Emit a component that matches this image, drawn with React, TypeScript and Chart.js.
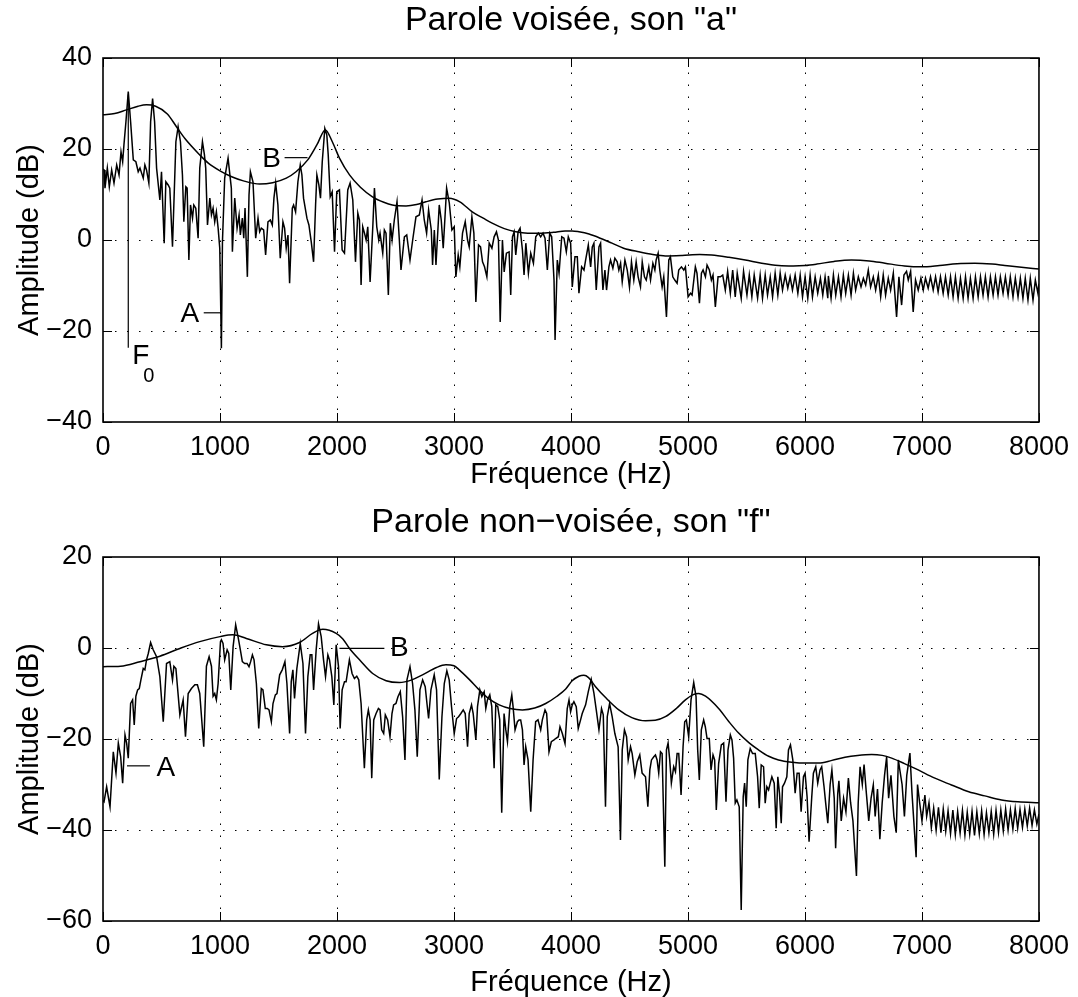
import React, { useEffect, useRef } from 'react';
import { Chart, registerables } from 'chart.js';

Chart.register(...registerables);

const FONT = '"Liberation Sans", Arial, Helvetica, sans-serif';
const TICK_SIZE = 27;
const LABEL_SIZE = 29;
const TITLE_SIZE = 34;

const freqTicks = [0, 1000, 2000, 3000, 4000, 5000, 6000, 7000, 8000];
const voicedDbTicks = [-40, -20, 0, 20, 40];
const unvoicedDbTicks = [-60, -40, -20, 0, 20];

const voicedTitle = 'Parole voisée, son "a"';
const unvoicedTitle = 'Parole non−voisée, son "f"';
const freqLabel = 'Fréquence (Hz)';
const ampLabel = 'Amplitude (dB)';

// Voiced "a": short-term spectrum [Hz, dB]
const voicedSpectrum: [number, number][] = [
  [0, 15.6], [9, 15.4], [17, 11.4], [37, 15.8], [54, 11.7], [74, 15.4], [94, 12.5], [117, 16.5], [137, 14.3], [154, 19.4],
  [168, 17.2], [179, 20.9], [196, 26.0], [216, 32.6], [236, 26.0], [259, 17.6], [281, 17.2], [301, 15.0], [316, 15.8], [330, 14.7],
  [344, 13.6], [358, 16.5], [372, 15.4], [392, 12.5], [407, 26.0], [424, 31.1], [441, 26.0], [458, 15.8], [486, 8.8], [500, 15.0],
  [523, -0.7], [537, 12.8], [557, 12.1], [571, 11.4], [594, -1.5], [623, 21.6], [642, 24.9], [662, 21.6], [679, 14.3], [691, 4.0],
  [708, 11.7], [719, 11.4], [734, -4.4], [748, 7.7], [765, 4.8], [776, 7.7], [793, 7.0], [813, 0.4], [827, 15.8], [850, 21.6],
  [867, 18.7], [878, 15.8], [893, 3.3], [913, 9.2], [927, 5.5], [941, 7.0], [955, 4.0], [969, 6.2], [984, 2.6], [998, -1.8],
  [1012, -23.8], [1021, -0.4], [1040, 13.6], [1069, 18.0], [1097, 11.4], [1106, -2.6], [1126, 9.2], [1146, 2.6], [1163, 5.5], [1174, 1.1],
  [1191, 4.8], [1203, 0.4], [1214, 7.0], [1234, -8.1], [1248, 9.9], [1260, 15.0], [1282, 12.8], [1305, 0.4], [1325, 4.8], [1339, 1.8],
  [1353, 2.6], [1373, 2.2], [1390, -3.3], [1410, 4.0], [1430, 4.4], [1447, 3.3], [1461, 9.2], [1476, 12.5], [1495, 7.7], [1515, -4.0],
  [1538, 4.0], [1552, 2.6], [1566, -1.8], [1581, 1.1], [1595, -9.5], [1618, 7.0], [1629, 7.7], [1646, 6.2], [1666, 12.8], [1686, 16.5],
  [1700, 14.3], [1714, 9.2], [1743, 4.8], [1760, 3.3], [1780, -0.4], [1800, -4.8], [1817, 7.7], [1828, 14.3], [1845, 12.1], [1859, 9.2],
  [1874, 17.2], [1896, 24.5], [1913, 23.1], [1925, 18.7], [1942, 9.5], [1959, 10.6], [1979, -2.6], [1998, 10.6], [2021, 11.0], [2044, -2.2],
  [2064, -2.9], [2092, 11.0], [2112, 12.5], [2135, 8.8], [2158, -4.8], [2178, 5.9], [2192, 4.4], [2206, -9.9], [2220, 2.9], [2235, 1.5],
  [2249, 0.0], [2263, 2.9], [2283, -9.2], [2306, 2.9], [2320, 11.4], [2340, 2.9], [2357, 0.0], [2368, 1.5], [2391, -2.9], [2405, 2.2],
  [2419, 1.5], [2439, -12.1], [2456, 3.7], [2471, 0.0], [2490, 4.4], [2513, 8.4], [2533, 0.0], [2547, -6.6], [2576, 0.7], [2596, 1.1],
  [2624, -4.4], [2647, 0.0], [2675, 5.1], [2704, 5.5], [2727, 8.8], [2746, 4.4], [2766, 1.5], [2783, 6.6], [2806, 2.2], [2817, -5.5],
  [2832, 2.2], [2846, -5.5], [2874, 7.7], [2891, 4.4], [2908, -1.8], [2937, 11.4], [2960, 8.1], [2982, 2.2], [3002, 2.9], [3016, -8.1],
  [3036, -3.3], [3050, -5.9], [3073, 1.5], [3096, 4.0], [3116, 0.0], [3130, -1.5], [3153, 5.1], [3170, 1.5], [3187, -13.6], [3210, -1.1],
  [3227, -1.5], [3244, -4.8], [3261, -5.9], [3281, -8.1], [3301, -0.7], [3324, -1.8], [3343, 0.7], [3363, 1.8], [3380, 0.0], [3395, -18.0],
  [3414, 0.0], [3429, -7.0], [3448, -2.9], [3471, -2.6], [3485, -12.1], [3500, 0.7], [3514, 1.8], [3528, -3.3], [3548, 1.8], [3565, 2.6],
  [3585, -2.2], [3599, -7.7], [3614, -0.7], [3636, -7.3], [3656, -2.9], [3679, -5.1], [3699, 0.7], [3721, 1.5], [3741, 0.7], [3761, 1.5],
  [3778, 0.4], [3798, -6.6], [3818, 1.5], [3835, 0.7], [3855, -8.8], [3864, -22.0], [3883, -4.4], [3898, -7.3], [3921, 0.7], [3940, 0.4],
  [3960, -2.6], [3977, 0.7], [3997, -0.7], [4011, -10.3], [4034, -3.7], [4054, -3.7], [4068, -11.7], [4091, -5.9], [4111, -6.6], [4125, -4.4],
  [4148, -1.1], [4168, -5.9], [4182, -1.5], [4196, -0.7], [4216, -11.0], [4239, -1.5], [4253, -0.7], [4273, -11.0], [4290, -6.6], [4304, -11.0],
  [4324, -5.9], [4338, -4.4], [4358, -6.2], [4375, -4.0], [4395, -4.8], [4409, -6.6], [4424, -5.1], [4438, -9.2], [4461, -4.4], [4481, -6.6],
  [4500, -10.4], [4517, -4.8], [4537, -8.8], [4557, -4.8], [4574, -8.1], [4594, -10.3], [4609, -4.8], [4628, -8.1], [4643, -8.8], [4665, -5.9],
  [4680, -8.8], [4700, -5.1], [4717, -6.6], [4728, -4.4], [4745, -2.9], [4759, -6.6], [4779, -10.3], [4793, -8.1], [4816, -16.9], [4836, -4.4],
  [4850, -3.7], [4870, -8.1], [4887, -8.8], [4907, -9.5], [4921, -6.6], [4944, -5.9], [4964, -6.6], [4978, -5.9], [5001, -12.5], [5021, -11.7],
  [5035, -12.1], [5063, -5.9], [5077, -7.3], [5098, -13.9], [5115, -7.3], [5129, -6.6], [5149, -8.1], [5163, -5.5], [5183, -6.6], [5200, -8.8],
  [5214, -7.7], [5234, -14.7], [5257, -8.1], [5277, -8.1], [5297, -7.7],
  [5319, -11.0], [5339, -6.9], [5362, -11.7], [5382, -6.6], [5404, -12.5], [5421, -7.3], [5455, -12.8], [5475, -6.9], [5504, -12.1], [5524, -7.7],
  [5546, -12.5], [5566, -7.7], [5595, -12.8], [5617, -7.7], [5637, -12.8], [5660, -7.7], [5680, -12.1], [5703, -8.1], [5723, -12.5], [5745, -7.3],
  [5768, -12.1], [5788, -7.3], [5808, -11.0], [5831, -7.7], [5853, -10.6], [5873, -8.1], [5893, -11.0], [5916, -7.7], [5939, -11.7], [5959, -7.7],
  [5979, -12.5], [6001, -8.1], [6024, -12.8], [6044, -7.7], [6064, -12.5], [6087, -8.1], [6109, -11.7], [6132, -8.4], [6152, -12.1], [6172, -8.1],
  [6195, -12.8], [6200, -7.9], [6223, -12.8], [6243, -7.7], [6263, -12.1], [6286, -8.1], [6308, -12.5], [6328, -7.7], [6348, -11.7], [6371, -7.7],
  [6394, -12.1], [6414, -7.3], [6433, -11.0], [6456, -8.1], [6479, -10.3], [6499, -8.4], [6519, -9.9], [6541, -6.6], [6561, -10.3], [6584, -8.1],
  [6604, -11.0], [6627, -7.7], [6647, -12.5], [6669, -7.7], [6689, -12.1], [6712, -8.4], [6732, -11.0], [6755, -7.3], [6783, -16.9], [6803, -8.1],
  [6826, -14.3], [6846, -7.7], [6868, -6.9], [6883, -8.8], [6903, -6.9], [6925, -15.8], [6945, -8.8], [6968, -11.0], [6991, -8.4], [7011, -11.0],
  [7030, -8.4], [7053, -10.6], [7073, -8.1], [7096, -11.0], [7116, -8.1], [7138, -11.4], [7158, -8.1], [7181, -11.7], [7201, -8.1], [7224, -12.1],
  [7244, -8.1], [7266, -12.5], [7286, -8.1], [7309, -12.8], [7329, -8.4], [7352, -12.8], [7372, -8.1], [7394, -12.8], [7414, -8.4], [7437, -12.8],
  [7457, -8.1], [7480, -12.5], [7500, -8.1], [7522, -12.1], [7542, -8.1], [7565, -12.5], [7585, -8.1], [7608, -12.1], [7628, -8.1], [7650, -12.1],
  [7670, -8.1], [7693, -11.7], [7713, -8.1], [7736, -12.1], [7755, -8.1], [7778, -12.5], [7798, -8.4], [7821, -12.5], [7841, -8.4], [7863, -12.8],
  [7883, -8.4], [7906, -13.2], [7926, -8.4], [7949, -13.2], [7969, -8.8], [7991, -11.7], [8000, -9.6],
];

// Voiced "a": smooth spectral envelope [Hz, dB]
const voicedEnvelope: [number, number][] = [
  [0, 27.5], [100, 27.8], [200, 28.6], [300, 29.4], [372, 29.7], [450, 29.4], [550, 27.7], [628, 24.9], [700, 22.3], [827, 18.7],
  [900, 16.9], [1000, 15.2], [1100, 13.9], [1200, 13.0], [1339, 12.3], [1450, 12.6], [1567, 13.6], [1650, 15.0], [1750, 17.6], [1830, 21.0],
  [1900, 24.2], [1960, 21.6], [2021, 18.0], [2107, 14.3], [2200, 11.6], [2303, 9.5], [2400, 8.3], [2473, 7.7], [2590, 7.5], [2680, 7.8],
  [2760, 8.4], [2860, 9.0], [2960, 9.2], [3050, 8.4], [3156, 6.2], [3250, 4.8], [3326, 3.7], [3430, 2.5], [3528, 1.8], [3630, 1.5],
  [3727, 1.5], [3850, 1.7], [3950, 2.0], [4010, 2.0], [4068, 1.8], [4154, 1.3], [4250, 0.4], [4350, -0.7], [4450, -1.8], [4580, -2.6],
  [4700, -3.2], [4807, -3.5], [4950, -3.4], [5100, -3.2], [5203, -3.3], [5350, -3.8], [5490, -4.4], [5630, -5.1], [5774, -5.6], [5900, -5.7],
  [6001, -5.6], [6100, -5.3], [6250, -4.7], [6397, -4.4], [6550, -4.6], [6684, -5.1], [6850, -5.7], [6994, -5.9], [7150, -5.6], [7300, -5.2],
  [7451, -5.1], [7600, -5.3], [7707, -5.6], [7850, -6.0], [8000, -6.4],
];

// Unvoiced "f": short-term spectrum [Hz, dB]
const unvoicedSpectrum: [number, number][] = [
  [0, -33.5], [9, -33.8], [31, -30.5], [60, -34.9], [88, -22.8], [111, -27.5], [131, -20.9], [151, -23.9], [168, -29.7], [188, -19.1],
  [202, -20.9], [216, -24.2], [236, -12.2], [253, -11.4], [267, -16.9], [281, -10.6], [296, -9.2], [310, -8.9], [324, -7.0], [344, -4.5],
  [358, -4.8], [372, -2.6], [387, -1.2], [407, 1.2], [429, -0.4], [458, -1.9], [486, -6.3], [515, -16.2], [543, -3.4], [571, -3.0],
  [594, -7.0], [606, -4.0], [623, -4.5], [657, -14.7], [685, -11.4], [705, -19.5], [728, -10.0], [756, -8.9], [785, -8.1], [807, -8.1],
  [827, -10.0], [861, -21.7], [884, -4.0], [907, -1.9], [927, -4.0], [941, -10.6], [955, -10.0], [969, -11.4], [984, -7.8], [1004, 1.4],
  [1012, 1.8], [1026, 1.0], [1040, -2.6], [1061, -0.4], [1075, -1.2], [1092, -9.2], [1112, 0.3], [1134, 5.1], [1154, 2.5], [1174, -0.4],
  [1191, -3.0], [1211, -3.4], [1231, -3.4], [1248, -4.1], [1262, -3.0], [1277, -1.5], [1291, -2.6], [1311, -7.8], [1331, -17.7], [1353, -8.9],
  [1367, -9.2], [1387, -13.3], [1404, -13.3], [1419, -13.6], [1439, -16.2], [1453, -12.2], [1473, -10.3], [1487, -10.0], [1510, -5.9], [1532, -4.8],
  [1555, -3.0], [1572, -7.8], [1595, -18.8], [1609, -7.4], [1623, -4.8], [1637, -11.1], [1657, -4.5], [1686, 1.0], [1709, -3.4], [1731, -18.8],
  [1751, -6.3], [1771, -1.5], [1785, -1.5], [1800, -9.2], [1822, -0.4], [1842, 5.3], [1865, 2.5], [1885, -2.6], [1902, -6.3], [1922, -1.5],
  [1936, -2.6], [1956, -6.3], [1973, -12.5], [1993, 0.7], [2013, -4.1], [2027, -17.7], [2044, -9.2], [2064, -7.4], [2078, -7.4], [2106, -2.6],
  [2129, -5.6], [2149, -6.7], [2169, -6.2], [2186, -7.0], [2206, -12.2], [2234, -26.4], [2254, -15.8], [2268, -13.6], [2283, -15.8], [2297, -28.6],
  [2314, -15.8], [2334, -14.4], [2354, -13.3], [2368, -13.6], [2382, -18.0], [2399, -18.8], [2413, -14.7], [2433, -15.8], [2453, -19.5], [2470, -14.4],
  [2484, -12.5], [2504, -12.2], [2521, -10.7], [2541, -9.6], [2561, -15.1], [2581, -24.6], [2598, -7.0], [2624, -4.1], [2646, -7.8], [2666, -13.6],
  [2686, -23.9], [2709, -9.2], [2732, -7.0], [2754, -8.5], [2769, -12.2], [2783, -15.5], [2803, -9.2], [2831, -5.9], [2851, -9.2], [2874, -28.9],
  [2897, -15.1], [2917, -7.8], [2939, -5.0], [2959, -7.0], [2979, -12.9], [3002, -18.8], [3022, -15.5], [3039, -15.1], [3059, -14.4], [3079, -13.6],
  [3096, -14.4], [3116, -21.7], [3130, -14.4], [3150, -12.5], [3164, -14.4], [3187, -20.2], [3201, -12.9], [3221, -9.2], [3238, -10.7], [3258, -9.6],
  [3272, -13.3], [3286, -11.4], [3306, -10.3], [3323, -12.9], [3343, -26.4], [3357, -12.5], [3374, -12.9], [3391, -15.8], [3408, -36.2], [3428, -14.4],
  [3443, -18.0], [3457, -20.6], [3477, -12.9], [3494, -10.3], [3505, -12.9], [3522, -18.0], [3542, -16.2], [3556, -15.8], [3570, -15.8], [3585, -18.0],
  [3599, -25.7], [3613, -21.7], [3633, -24.6], [3656, -36.0], [3676, -24.6], [3698, -16.2], [3718, -15.8], [3741, -18.0], [3755, -15.8], [3778, -13.6],
  [3792, -14.4], [3812, -22.8], [3832, -20.6], [3855, -20.2], [3869, -19.9], [3892, -19.5], [3906, -17.3], [3926, -18.8], [3949, -21.0], [3968, -13.3],
  [3983, -11.4], [3997, -14.0], [4011, -12.5], [4025, -11.8], [4045, -12.9], [4062, -17.7], [4082, -15.8], [4096, -14.4], [4125, -12.5], [4148, -9.6],
  [4173, -6.9], [4196, -9.9], [4216, -13.6], [4239, -18.0], [4261, -13.3], [4276, -14.7], [4295, -34.9], [4310, -15.1], [4330, -12.2], [4352, -15.1],
  [4375, -18.8], [4403, -21.7], [4423, -42.2], [4438, -22.4], [4457, -18.0], [4475, -19.5], [4489, -24.6], [4509, -21.7], [4523, -23.2], [4546, -27.9],
  [4566, -25.0], [4588, -23.5], [4608, -27.5], [4637, -28.3], [4657, -34.9], [4674, -26.8], [4688, -24.6], [4708, -23.9], [4722, -23.5], [4736, -24.6],
  [4750, -27.5], [4765, -22.8], [4779, -23.2], [4802, -48.1], [4816, -22.4], [4830, -20.9], [4844, -24.6], [4858, -29.7], [4878, -26.1], [4893, -27.2],
  [4907, -23.2], [4921, -23.2], [4941, -32.3], [4958, -21.7], [4972, -16.2], [4986, -15.8], [5006, -19.5], [5026, -11.4], [5049, -7.6], [5069, -10.7],
  [5083, -22.4], [5097, -29.0], [5114, -18.0], [5134, -15.8], [5148, -17.3], [5163, -19.9], [5182, -19.9], [5197, -26.8], [5214, -23.5], [5228, -24.6],
  [5242, -35.6], [5262, -25.4], [5285, -21.3], [5305, -20.9], [5325, -33.8], [5342, -22.4], [5362, -19.1], [5376, -20.2], [5390, -24.2], [5404, -34.1],
  [5418, -33.4], [5438, -34.9], [5455, -57.6], [5472, -32.7], [5484, -29.7], [5498, -34.9], [5512, -24.6], [5532, -22.1], [5552, -23.2], [5575, -23.2],
  [5595, -28.3], [5609, -35.2], [5626, -25.7], [5646, -26.1], [5660, -34.1], [5674, -30.5], [5689, -31.2], [5703, -29.7], [5717, -28.3], [5737, -29.7],
  [5754, -39.6], [5768, -28.3], [5782, -31.9], [5797, -38.5], [5808, -30.5], [5825, -29.7], [5845, -28.3], [5859, -22.4], [5876, -21.3], [5896, -24.6],
  [5916, -31.9], [5933, -27.5], [5950, -27.5], [5967, -36.0], [5987, -28.3], [6001, -27.5], [6018, -32.7], [6035, -42.6], [6058, -32.7], [6072, -27.5],
  [6092, -26.1], [6109, -29.7], [6129, -26.8], [6143, -26.1], [6163, -30.5], [6177, -34.1], [6195, -38.5], [6215, -30.0], [6230, -26.8], [6250, -33.0],
  [6262, -44.0], [6280, -32.0], [6290, -29.2], [6310, -38.0], [6330, -33.0], [6350, -36.0], [6371, -28.6], [6390, -34.0], [6410, -38.0], [6440, -50.1],
  [6455, -34.0], [6471, -26.1], [6490, -30.0], [6505, -25.6], [6525, -32.0], [6545, -38.0], [6565, -33.0], [6584, -30.1], [6600, -37.0], [6620, -31.0],
  [6640, -42.0], [6660, -34.0], [6680, -28.0], [6698, -23.9], [6715, -33.0], [6735, -28.0], [6760, -37.0], [6780, -40.6], [6798, -24.6], [6812, -27.0],
  [6830, -30.0], [6850, -37.0], [6870, -28.0], [6897, -23.1], [6915, -32.0], [6930, -38.0], [6950, -46.0], [6962, -30.0], [6980, -34.0], [7000, -38.0],
  [7025, -32.3], [7040, -37.0], [7060, -34.0],
  [7080, -39.5], [7100, -35.2], [7121, -40.1], [7141, -35.0], [7162, -40.6], [7182, -35.4], [7203, -40.3], [7223, -35.8], [7244, -40.8], [7264, -35.6],
  [7285, -41.0], [7305, -36.0], [7326, -40.7], [7346, -35.7], [7367, -41.1], [7387, -36.1], [7408, -40.9], [7428, -35.9], [7449, -41.2], [7469, -36.0],
  [7490, -40.8], [7510, -35.8], [7531, -41.0], [7551, -36.2], [7572, -40.6], [7592, -35.9], [7613, -40.9], [7633, -35.7], [7654, -40.5], [7674, -35.6],
  [7695, -40.2], [7715, -35.4], [7736, -40.0], [7756, -35.6], [7777, -39.8], [7797, -35.3], [7818, -39.6], [7838, -35.5], [7859, -39.4], [7879, -35.4],
  [7900, -39.1], [7920, -35.2], [7941, -39.0], [7961, -35.6], [7982, -38.7], [8000, -36.5],
];

// Unvoiced "f": smooth spectral envelope [Hz, dB]
const unvoicedEnvelope: [number, number][] = [
  [0, -4.1], [150, -4.0], [316, -3.0], [486, -1.8], [657, -0.1], [827, 1.4], [1000, 2.5], [1109, 2.9], [1225, 2.1], [1396, 0.7],
  [1535, 0.3], [1680, 1.2], [1791, 3.2], [1879, 4.1], [1993, 3.2], [2050, 2.0], [2107, -0.1], [2200, -2.8], [2305, -5.6], [2420, -7.2],
  [2533, -7.6], [2640, -7.0], [2731, -5.9], [2850, -4.3], [2931, -3.7], [3000, -3.9], [3045, -4.8], [3130, -6.9], [3215, -9.2], [3300, -11.2],
  [3386, -12.5], [3480, -13.3], [3585, -13.6], [3690, -13.2], [3784, -12.2], [3880, -10.6], [3955, -9.0], [4010, -7.2], [4068, -6.2], [4110, -6.0],
  [4150, -6.5], [4210, -8.5], [4300, -11.0], [4409, -13.6], [4520, -15.3], [4637, -16.0], [4720, -15.9], [4807, -15.1], [4900, -13.3], [4978, -11.4],
  [5040, -10.3], [5092, -10.0], [5150, -10.6], [5262, -13.3], [5350, -16.2], [5433, -18.7], [5520, -20.8], [5603, -22.4], [5690, -23.8], [5774, -24.6],
  [5890, -25.1], [6001, -25.3], [6115, -25.3], [6230, -24.7], [6342, -24.0], [6450, -23.6], [6570, -23.4], [6660, -23.6], [6741, -24.2], [6850, -25.4],
  [6968, -26.8], [7100, -28.5], [7252, -30.1], [7400, -31.6], [7537, -32.5], [7680, -33.4], [7821, -33.8], [8000, -34.0],
];

// Annotation leader lines [Hz, dB] pairs and labels
const voicedLeaders: [number, number][][] = [
  [[1552, 18.1], [1748, 18.1]],
  [[861, -16.0], [1012, -16.0]],
  [[216, 32.0], [216, -23.7]],
];
const voicedLabels = [
  { text: 'B', hz: 1441, db: 17.8, size: 28 },
  { text: 'A', hz: 742, db: -16.3, size: 28 },
  { text: 'F', hz: 324, db: -25.5, size: 28 },
  { text: '0', hz: 392, db: -29.9, size: 20 },
];
const unvoicedLeaders: [number, number][][] = [
  [[2021, -0.1], [2405, -0.1]],
  [[205, -25.9], [401, -25.9]],
];
const unvoicedLabels = [
  { text: 'B', hz: 2533, db: 0.0, size: 28 },
  { text: 'A', hz: 537, db: -26.4, size: 28 },
];

const framePlugin = {
  id: 'frame',
  beforeDatasetsDraw(chart: any) {
    const { ctx, chartArea: a, scales } = chart;
    const xs = scales.x;
    const ys = scales.y;
    ctx.save();
    ctx.strokeStyle = '#000';
    ctx.lineWidth = 1;
    ctx.setLineDash([1.5, 10.5]);
    xs.ticks.forEach((t: any) => {
      if (t.value === xs.min || t.value === xs.max) return;
      const px = Math.round(xs.getPixelForValue(t.value)) + 0.5;
      ctx.beginPath();
      ctx.moveTo(px, a.bottom);
      ctx.lineTo(px, a.top);
      ctx.stroke();
    });
    ys.ticks.forEach((t: any) => {
      if (t.value === ys.min || t.value === ys.max) return;
      const py = Math.round(ys.getPixelForValue(t.value)) + 0.5;
      ctx.beginPath();
      ctx.moveTo(a.left, py);
      ctx.lineTo(a.right, py);
      ctx.stroke();
    });
    ctx.restore();
  },
  afterDatasetsDraw(chart: any, _args: any, opts: any) {
    const { ctx, chartArea: a, scales } = chart;
    const xs = scales.x;
    const ys = scales.y;
    ctx.save();
    ctx.setLineDash([]);
    ctx.strokeStyle = '#000';
    ctx.lineWidth = 1;
    const tl = 9;
    xs.ticks.forEach((t: any) => {
      const px = Math.round(xs.getPixelForValue(t.value)) + 0.5;
      ctx.beginPath();
      ctx.moveTo(px, a.bottom);
      ctx.lineTo(px, a.bottom - tl);
      ctx.moveTo(px, a.top);
      ctx.lineTo(px, a.top + tl);
      ctx.stroke();
    });
    ys.ticks.forEach((t: any) => {
      const py = Math.round(ys.getPixelForValue(t.value)) + 0.5;
      ctx.beginPath();
      ctx.moveTo(a.left, py);
      ctx.lineTo(a.left + tl, py);
      ctx.moveTo(a.right, py);
      ctx.lineTo(a.right - tl, py);
      ctx.stroke();
    });
    ctx.lineWidth = 1.6;
    ctx.strokeRect(a.left, a.top, a.right - a.left, a.bottom - a.top);
    ctx.fillStyle = '#000';
    ctx.textAlign = 'center';
    ctx.textBaseline = 'middle';
    (opts.labels || []).forEach((l: any) => {
      ctx.font = `${l.size}px ${FONT}`;
      ctx.fillText(l.text, xs.getPixelForValue(l.hz), ys.getPixelForValue(l.db));
    });
    ctx.restore();
  },
};

const minusFmt = (v: any) => String(v).replace('-', '\u2212');

function makeConfig(p: any) {
  const datasets: any[] = [
    {
      data: p.envelope.map(([x, y]: number[]) => ({ x, y })),
      borderColor: '#000',
      borderWidth: 1.5,
      pointRadius: 0,
      cubicInterpolationMode: 'monotone',
      fill: false,
    },
    {
      data: p.spectrum.map(([x, y]: number[]) => ({ x, y })),
      borderColor: '#000',
      borderWidth: 1.5,
      pointRadius: 0,
      tension: 0,
      fill: false,
    },
    ...p.leaders.map((seg: number[][]) => ({
      data: seg.map(([x, y]) => ({ x, y })),
      borderColor: '#000',
      borderWidth: 1.2,
      pointRadius: 0,
      tension: 0,
      fill: false,
    })),
  ];
  return {
    type: 'line',
    data: { datasets },
    options: {
      animation: false,
      responsive: false,
      devicePixelRatio: 1,
      events: [],
      layout: { padding: { left: 0, right: 37, top: 0, bottom: 0 } },
      plugins: {
        legend: { display: false },
        tooltip: { enabled: false },
        title: {
          display: true,
          fullSize: false,
          text: p.title,
          color: '#000',
          font: { family: FONT, size: TITLE_SIZE, weight: 'normal', lineHeight: 1.2 },
          padding: p.titlePadding,
        },
        frame: { labels: p.labels },
      },
      scales: {
        x: {
          type: 'linear',
          min: 0,
          max: 8000,
          grid: { display: false, drawTicks: false },
          border: { display: false },
          afterBuildTicks: (s: any) => {
            s.ticks = freqTicks.map((v) => ({ value: v }));
          },
          afterFit: (s: any) => {
            s.height = p.xAxisHeight;
          },
          ticks: {
            color: '#000',
            font: { family: FONT, size: TICK_SIZE },
            padding: 9,
            maxRotation: 0,
            autoSkip: false,
            callback: minusFmt,
          },
          title: {
            display: true,
            text: freqLabel,
            color: '#000',
            font: { family: FONT, size: LABEL_SIZE, lineHeight: 1.0 },
            padding: { top: 0, bottom: p.xTitlePad },
          },
        },
        y: {
          type: 'linear',
          min: p.yTicks[0],
          max: p.yTicks[p.yTicks.length - 1],
          grid: { display: false, drawTicks: false },
          border: { display: false },
          afterBuildTicks: (s: any) => {
            s.ticks = p.yTicks.map((v: number) => ({ value: v }));
          },
          afterFit: (s: any) => {
            s.width = 103;
          },
          ticks: {
            color: '#000',
            font: { family: FONT, size: TICK_SIZE },
            padding: 11,
            autoSkip: false,
            callback: minusFmt,
          },
          title: {
            display: true,
            text: ampLabel,
            color: '#000',
            font: { family: FONT, size: LABEL_SIZE, lineHeight: 1.0 },
            padding: { top: 15, bottom: 0 },
          },
        },
      },
    },
    plugins: [framePlugin],
  };
}

function SpectrumPanel(props: any) {
  const ref = useRef<HTMLCanvasElement>(null);
  useEffect(() => {
    const chart = new Chart(ref.current as HTMLCanvasElement, makeConfig(props) as any);
    return () => chart.destroy();
  }, []);
  return (
    <canvas
      ref={ref}
      width={1078}
      height={props.height}
      style={{ display: 'block', width: 1078, height: props.height }}
    />
  );
}

export default function App() {
  return (
    <div style={{ position: 'absolute', left: 0, top: 0, width: 1078, height: 997, background: '#fff', overflow: 'hidden' }}>
      <div style={{ position: 'absolute', left: 0, top: 0 }}>
        <SpectrumPanel
          height={497}
          title={voicedTitle}
          spectrum={voicedSpectrum}
          envelope={voicedEnvelope}
          leaders={voicedLeaders}
          labels={voicedLabels}
          yTicks={voicedDbTicks}
          titlePadding={{ top: 0, bottom: 17.2 }}
          xAxisHeight={75}
          xTitlePad={8}
        />
      </div>
      <div style={{ position: 'absolute', left: 0, top: 497 }}>
        <SpectrumPanel
          height={500}
          title={unvoicedTitle}
          spectrum={unvoicedSpectrum}
          envelope={unvoicedEnvelope}
          leaders={unvoicedLeaders}
          labels={unvoicedLabels}
          yTicks={unvoicedDbTicks}
          titlePadding={{ top: 5.6, bottom: 13.6 }}
          xAxisHeight={76}
          xTitlePad={0}
        />
      </div>
    </div>
  );
}
